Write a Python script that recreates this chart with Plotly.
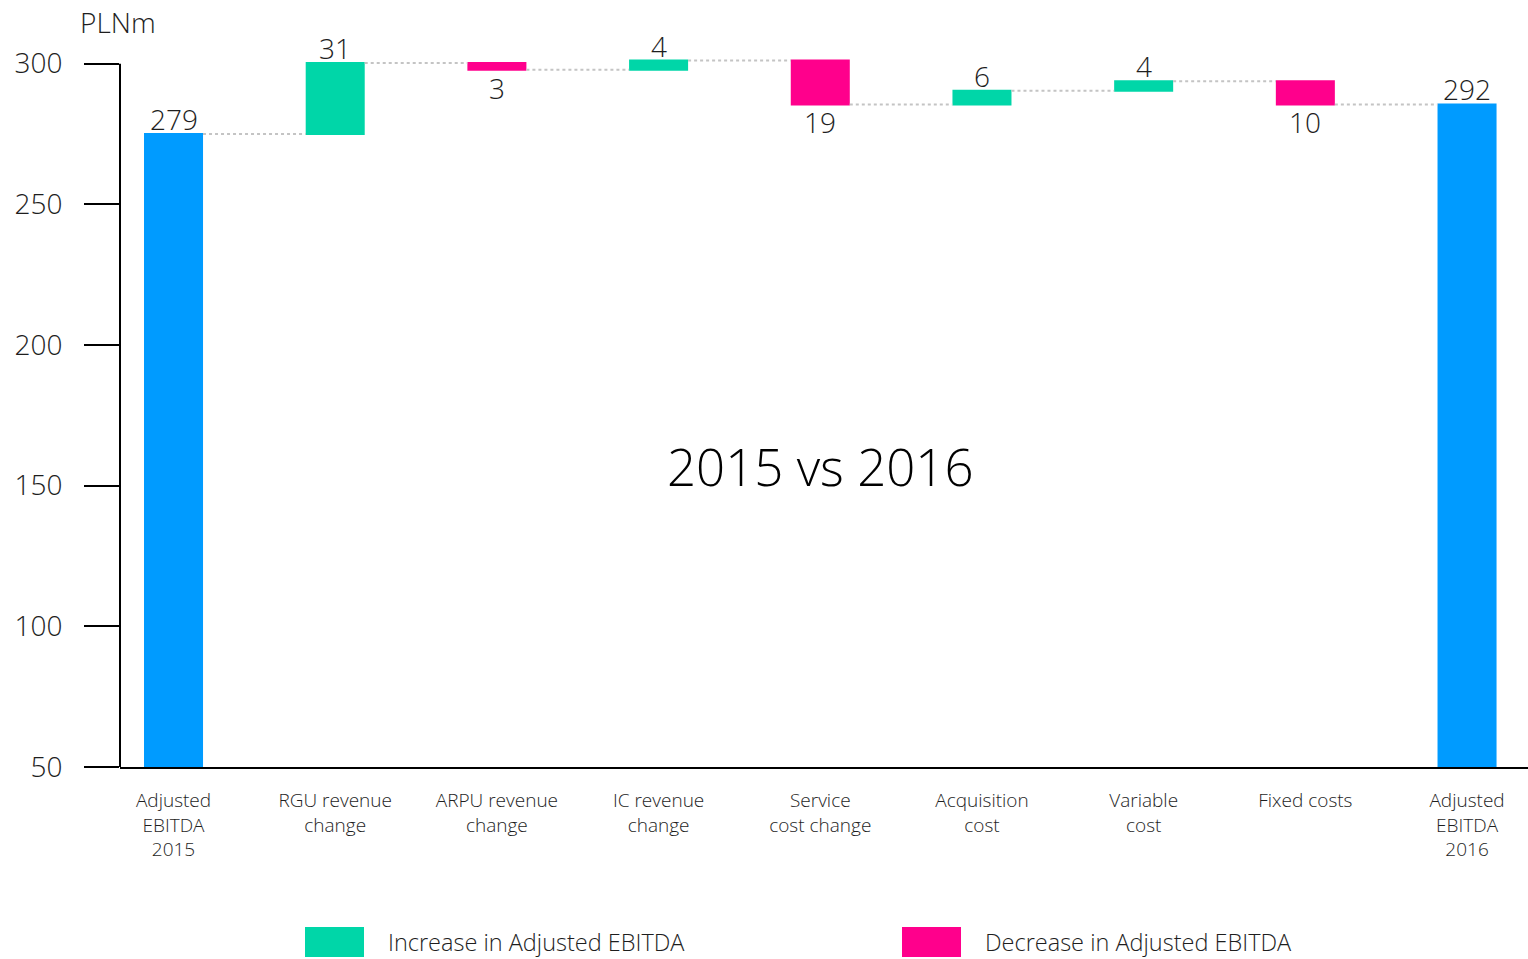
import plotly.graph_objects as go

categories = ["Adjusted<br>EBITDA<br>2015", "RGU revenue<br>change", "ARPU revenue<br>change",
              "IC revenue<br>change", "Service<br>cost change", "Acquisition<br>cost",
              "Variable<br>cost", "Fixed costs", "Adjusted<br>EBITDA<br>2016"]
measures = ["absolute", "relative", "relative", "relative", "relative", "relative", "relative", "relative", "total"]
values = [275.0, 25.2, -2.4, 3.3, -15.6, 4.9, 3.3, -8.2, 0]
labels = ["279", "31", "3", "4", "19", "6", "4", "10", "292"]
y_ticks = [50, 100, 150, 200, 250, 300]

GREEN = "#00D6A8"
PINK = "#FF008C"
BLUE = "#009BFF"
FONT = "Open Sans"
TXT = "#1e1e1e"

fig = go.Figure()
fig.add_trace(go.Waterfall(
    x=categories, y=values, measure=measures,
    increasing=dict(marker=dict(color=GREEN)),
    decreasing=dict(marker=dict(color=PINK)),
    totals=dict(marker=dict(color=BLUE)),
    connector=dict(mode="between", line=dict(color="#c4c4c4", width=2, dash="dot")),
    width=0.365, showlegend=False, hoverinfo="skip",
))

# value labels placed at the end of each bar (above for up / totals, below for down)
annotations = []
running = 0.0
for cat, m, v, lab in zip(categories, measures, values, labels):
    if m == "absolute":
        running = v
        end, below = running, False
    elif m == "total":
        end, below = running, False
    else:
        running += v
        end, below = running, v < 0
    annotations.append(dict(
        x=cat, y=end, xref="x", yref="y", text=lab, showarrow=False,
        xanchor="center", yanchor="top" if below else "bottom",
        yshift=3 if below else -6,
        font=dict(size=28, family=FONT, weight=300, color=TXT)))

annotations += [
    dict(text="PLNm", xref="paper", yref="paper", x=(118 - 120) / 1408, y=(767 - 22) / 709,
         showarrow=False, xanchor="center", yanchor="middle",
         font=dict(size=28, family=FONT, weight=300, color=TXT)),
    dict(text="2015 vs 2016", xref="paper", yref="paper", x=(820 - 120) / 1408, y=(767 - 466) / 709,
         showarrow=False, xanchor="center", yanchor="middle",
         font=dict(size=51, family=FONT, weight=300, color="black")),
    dict(text="Increase in Adjusted EBITDA", xref="paper", yref="paper",
         x=(386 - 120) / 1408, y=-(942 - 767) / 709, showarrow=False, xanchor="left", yanchor="middle",
         font=dict(size=23.5, family=FONT, weight=300, color=TXT)),
    dict(text="Decrease in Adjusted EBITDA", xref="paper", yref="paper",
         x=(983 - 120) / 1408, y=-(942 - 767) / 709, showarrow=False, xanchor="left", yanchor="middle",
         font=dict(size=23.5, family=FONT, weight=300, color=TXT)),
]

fig.update_layout(
    width=1528, height=959, autosize=False,
    margin=dict(l=120, r=0, t=58, b=192),
    paper_bgcolor="white", plot_bgcolor="white",
    font=dict(family=FONT, color=TXT, weight=300),
    xaxis=dict(range=[-0.331, 8.377], showgrid=False, showline=True, linecolor="black",
               linewidth=2, ticks="", tickfont=dict(size=19, family=FONT, weight=300),
               ticklabelstandoff=15, zeroline=False),
    yaxis=dict(range=[50, 302], showgrid=False, showline=False, zeroline=False,
               tickvals=y_ticks, ticks="outside", ticklen=35, tickwidth=2, tickcolor="black",
               tickfont=dict(size=28, family=FONT, weight=300), ticklabelstandoff=16),
    shapes=[
        dict(type="line", xref="paper", yref="y", x0=0, x1=0, y0=50, y1=300,
             line=dict(color="black", width=2)),
        dict(type="rect", xref="paper", yref="paper",
             x0=(305 - 120) / 1408, x1=(364 - 120) / 1408, y0=-(927 - 767) / 709, y1=-(957 - 767) / 709,
             fillcolor=GREEN, line=dict(width=0)),
        dict(type="rect", xref="paper", yref="paper",
             x0=(902 - 120) / 1408, x1=(961 - 120) / 1408, y0=-(927 - 767) / 709, y1=-(957 - 767) / 709,
             fillcolor=PINK, line=dict(width=0)),
    ],
    annotations=annotations,
)

fig.write_html("out.html", include_plotlyjs=True, full_html=True,
               config={"displayModeBar": False},
               post_script="document.body.style.margin='0';")
